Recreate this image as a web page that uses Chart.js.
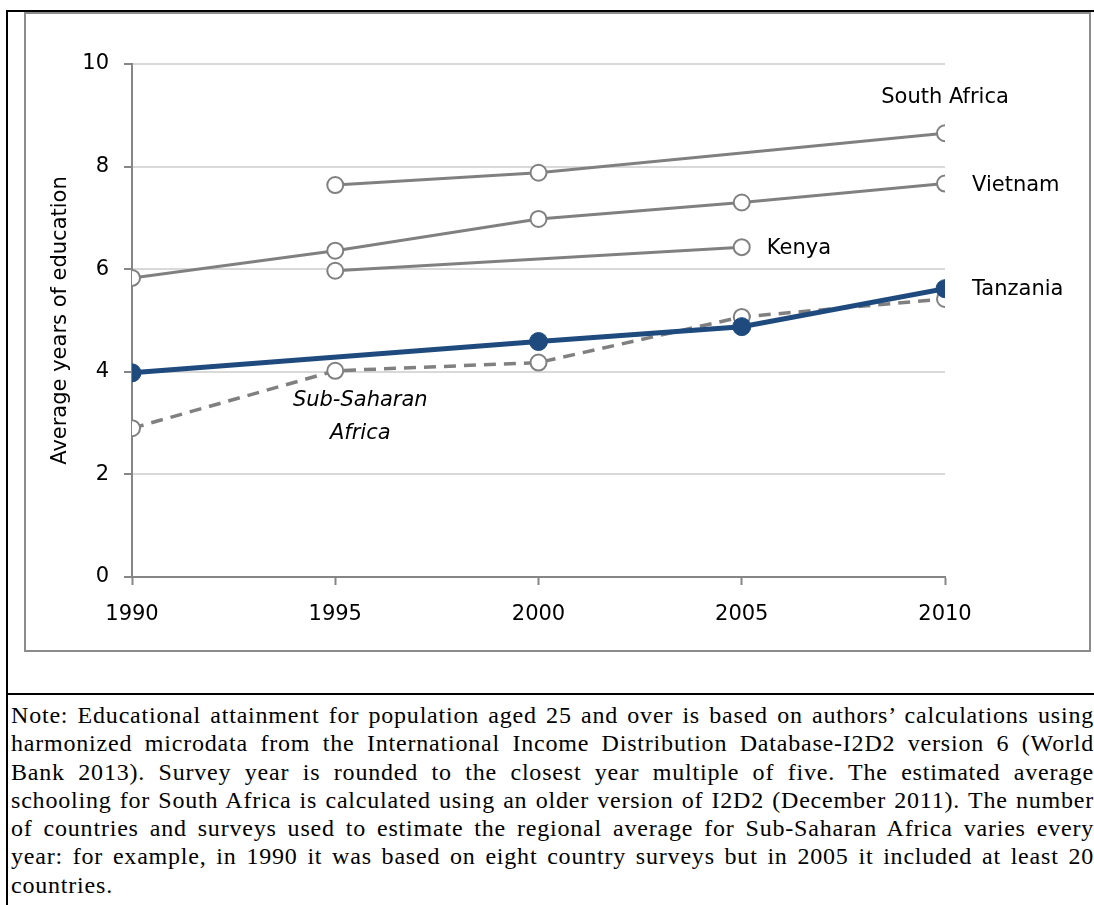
<!DOCTYPE html>
<html>
<head>
<meta charset="utf-8">
<script src="https://cdn.jsdelivr.net/npm/chart.js@4.4.0/dist/chart.umd.min.js"></script>
<style>
  html, body { margin: 0; padding: 0; background: #fff; }
  body { width: 1094px; height: 905px; position: relative; overflow: hidden; }
  .bar { position: absolute; background: #000; }
  #chartBox { position: absolute; left: 24px; top: 12px; width: 1067px; height: 640px;
              border: 2px solid #8c8c8c; box-sizing: border-box; }
  #chart { position: absolute; left: 0; top: 0; }
  #note { position: absolute; left: 11px; top: 701px; width: 1083px;
          font-family: "Liberation Serif", "Times New Roman", serif; font-size: 24px;
          letter-spacing: 0.8px; line-height: 28.3px; color: #000; }
  #note div { white-space: nowrap; }
</style>
</head>
<body>
<div class="bar" style="left:6px; top:10px; width:1088px; height:2px;"></div>
<div class="bar" style="left:6px; top:10px; width:2px; height:895px;"></div>
<div class="bar" style="left:6px; top:693px; width:1088px; height:2px;"></div>
<div id="chartBox"></div>
<canvas id="chart" width="1094" height="660"></canvas>
<div id="note">
  <div class="fill"><span>Note: Educational attainment for population aged 25 and over is based on authors’ calculations using</span></div>
  <div class="fill"><span>harmonized microdata from the International Income Distribution Database-I2D2 version 6 (World</span></div>
  <div class="fill"><span>Bank 2013). Survey year is rounded to the closest year multiple of five. The estimated average</span></div>
  <div class="fill"><span>schooling for South Africa is calculated using an older version of I2D2 (December 2011). The number</span></div>
  <div class="fill"><span>of countries and surveys used to estimate the regional average for Sub-Saharan Africa varies every</span></div>
  <div class="fill"><span>year: for example, in 1990 it was based on eight country surveys but in 2005 it included at least 20</span></div>
  <div><span>countries.</span></div>
</div>
<script>
// survey years and average years of education
const years = [1990, 1995, 2000, 2005, 2010];
const southAfrica = [null, 7.64, 7.88, null, 8.65];
const vietnam = [5.83, 6.36, 6.98, 7.30, 7.67];
const kenya = [null, 5.97, null, 6.43, null];
const tanzania = [3.98, null, 4.59, 4.88, 5.62];
const subSaharan = [2.90, 4.02, 4.18, 5.07, 5.42];

const yMin = 0, yMax = 10, yStep = 2;
const xStep = 5;

// justify each note line to the full width
document.querySelectorAll('#note .fill').forEach(line => {
  const span = line.querySelector('span');
  const spaces = (span.textContent.match(/ /g) || []).length;
  const gap = (line.clientWidth - span.getBoundingClientRect().width) / spaces;
  span.style.wordSpacing = gap + 'px';
});

const gray = '#808080';
const navy = '#1f4a7e';
const font = { family: '"DejaVu Sans", sans-serif', size: 21 };

function toPoints(values) {
  return years.map((x, i) => ({ x: x, y: values[i] }));
}

function openSeries(label, values, extra) {
  return Object.assign({
    label: label,
    data: toPoints(values),
    borderColor: gray,
    borderWidth: 3,
    pointRadius: 8,
    pointBackgroundColor: '#fff',
    pointBorderColor: gray,
    pointBorderWidth: 2,
    spanGaps: true,
    order: 2
  }, extra || {});
}

// where each series name sits, relative to one of its points
const nameSpots = {
  'South Africa': { at: 4, dx: 0, dy: -36, align: 'center' },
  'Vietnam': { at: 4, dx: 27, dy: 2, align: 'left' },
  'Kenya': { at: 3, dx: 25, dy: 1, align: 'left' },
  'Tanzania': { at: 4, dx: 27, dy: 1, align: 'left' },
  'Sub-Saharan Africa': { at: 1, dx: 25, dy: 30, align: 'center', lines: ['Sub-Saharan', 'Africa'], italic: true }
};

const seriesNames = {
  id: 'seriesNames',
  afterDatasetsDraw(chart) {
    const ctx = chart.ctx;
    ctx.save();
    ctx.fillStyle = '#000';
    ctx.textBaseline = 'middle';
    chart.data.datasets.forEach((ds, i) => {
      const spot = nameSpots[ds.label];
      if (!spot) return;
      const pt = chart.getDatasetMeta(i).data[spot.at];
      ctx.font = (spot.italic ? 'italic ' : '') + font.size + 'px ' + font.family;
      ctx.textAlign = spot.align;
      const lines = spot.lines || [ds.label];
      lines.forEach((t, k) => {
        ctx.fillText(t, pt.x + spot.dx, pt.y + spot.dy + k * 33);
      });
    });
    ctx.restore();
  }
};

new Chart(document.getElementById('chart'), {
  type: 'line',
  data: {
    datasets: [
      {
        label: 'Tanzania',
        data: toPoints(tanzania),
        borderColor: navy,
        borderWidth: 5,
        pointRadius: 9,
        pointBackgroundColor: navy,
        pointBorderColor: navy,
        pointBorderWidth: 1,
        spanGaps: true,
        order: 0
      },
      openSeries('Sub-Saharan Africa', subSaharan, { borderWidth: 3.5, borderDash: [12, 8], order: 1 }),
      openSeries('South Africa', southAfrica),
      openSeries('Vietnam', vietnam),
      openSeries('Kenya', kenya)
    ]
  },
  options: {
    responsive: false,
    animation: false,
    devicePixelRatio: 1,
    layout: { padding: { left: 40, top: 64, right: 149, bottom: 33 } },
    plugins: { legend: { display: false }, tooltip: { enabled: false } },
    scales: {
      x: {
        type: 'linear',
        min: years[0],
        max: years[years.length - 1],
        afterFit: s => { s.height = 50; },
        ticks: { stepSize: xStep, color: '#000', font: font, padding: 17,
                 callback: v => String(v) },
        grid: { drawOnChartArea: false, drawTicks: true, tickLength: 8,
                tickColor: '#868686', tickWidth: 2 },
        border: { color: '#868686', width: 2 }
      },
      y: {
        min: yMin,
        max: yMax,
        afterFit: s => { s.width = 92; },
        ticks: { stepSize: yStep, color: '#000', font: font, padding: 15 },
        grid: { color: '#d9d9d9', lineWidth: 2, tickLength: 8,
                tickColor: '#868686', tickWidth: 2 },
        border: { color: '#868686', width: 2 },
        title: { display: true, text: 'Average years of education', color: '#000',
                 font: font, padding: { top: 8 } }
      }
    }
  },
  plugins: [seriesNames]
});
</script>
</body>
</html>
